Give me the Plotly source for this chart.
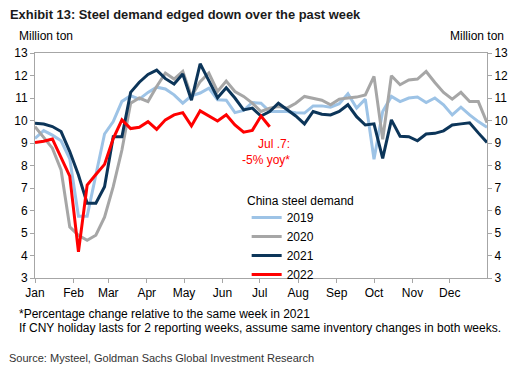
import pandas as pd
import plotly.graph_objects as go

# ---------------- data ----------------
week_start = "2022-01-01"
series_names = ["2019", "2020", "2021", "2022"]
month_labels = ["Jan", "Feb", "Mar", "Apr", "May", "Jun",
                "Jul", "Aug", "Sep", "Oct", "Nov", "Dec"]
y_tick_values = [3, 4, 5, 6, 7, 8, 9, 10, 11, 12, 13]

demand_2019 = [9.2, 9.55, 9.35, 9.1, 8.3, 5.75, 5.75, 7.6, 9.4, 9.95,
               10.85, 11.1, 10.95, 11.25, 11.48, 11.4, 11.14, 10.77, 11.1, 11.22,
               11.44, 10.92, 10.9, 10.35, 10.45, 10.8, 10.77, 10.4, 10.4, 10.4,
               10.35, 10.33, 10.65, 10.65, 10.59, 10.75, 11.19, 10.55, 10.95, 8.28,
               10.4, 11.07, 10.84, 11.0, 11.04, 10.8, 11.0, 10.7, 10.25, 10.59,
               10.25, 9.95, 9.7]
demand_2020 = [9.73, 9.25, 8.77, 7.8, 5.27, 4.9, 4.68, 4.9, 5.7, 7.06,
               8.69, 10.77, 11.0, 10.84, 11.51, 12.11, 11.84, 12.18, 11.07, 11.73,
               12.11, 11.29, 11.75, 11.29, 11.07, 10.77, 10.4, 10.55, 10.62, 10.55,
               10.77, 11.07, 11.0, 10.9, 10.7, 10.95, 11.0, 11.04, 11.14, 11.96,
               9.17, 11.99, 11.59, 11.8, 11.84, 12.18, 11.69, 11.25, 10.95, 11.25,
               10.84, 10.84, 9.9]
demand_2021 = [9.88, 9.84, 9.73, 9.51, 8.62, 7.58, 6.32, 6.32, 7.06, 9.28,
               9.28, 11.25, 11.7, 12.05, 12.24, 11.86, 11.62, 12.07, 10.9, 12.52,
               11.77, 11.01, 11.45, 11.0, 10.47, 10.55, 10.2, 10.4, 10.77, 10.5,
               10.2, 9.85, 10.4, 10.28, 10.25, 10.4, 10.7, 10.17, 9.8, 9.85,
               8.32, 10.03, 9.3, 9.28, 9.1, 9.4, 9.43, 9.54, 9.8, 9.85,
               9.9, 9.45, 9.02]
demand_2022 = [9.02, 9.08, 9.18, 8.39, 7.53, 4.16, 7.13, 7.6, 8.05, 9.2,
               10.03, 9.64, 9.7, 9.95, 9.61, 10.03, 10.25, 10.35, 9.76, 10.43,
               10.2, 9.98, 10.25, 9.8, 9.48, 9.56, 10.2, 9.72]

# ---------------- style ----------------
FONT = "Liberation Sans, Arial, sans-serif"
AXIS_GREY = "#A6A6A6"
colors = {"2019": "#9DC3E6", "2020": "#A6A6A6", "2021": "#0C3559", "2022": "#FF0000"}


def week_dates(n):
    return pd.date_range(week_start, periods=n, freq="7D")


fig = go.Figure()
for name, vals in zip(series_names, [demand_2019, demand_2020, demand_2021, demand_2022]):
    fig.add_trace(go.Scatter(
        x=week_dates(len(vals)), y=vals, mode="lines", name=name,
        line=dict(color=colors[name], width=3),
        yaxis="y2" if name == "2022" else "y",
        hoverinfo="skip",
    ))

month_ticks = pd.date_range(week_start, periods=12, freq="MS")

fig.update_layout(
    width=520, height=374,
    margin=dict(l=35, r=28, t=53, b=96),
    paper_bgcolor="white", plot_bgcolor="white",
    font=dict(family=FONT, size=12, color="black"),
    xaxis=dict(
        type="date", range=["2022-01-01", "2022-12-31"],
        tickvals=month_ticks, ticktext=month_labels,
        showline=True, linecolor=AXIS_GREY, linewidth=1, mirror=True,
        ticks="outside", ticklen=4, tickcolor=AXIS_GREY,
        showgrid=False, zeroline=False,
        tickfont=dict(size=12, color="black"),
    ),
    yaxis=dict(
        range=[3, 13], tickvals=y_tick_values,
        showline=True, linecolor=AXIS_GREY, linewidth=1,
        ticks="outside", ticklen=4, tickcolor=AXIS_GREY,
        showgrid=False, zeroline=False,
        tickfont=dict(size=12, color="black"),
    ),
    yaxis2=dict(
        range=[3, 13], tickvals=y_tick_values, overlaying="y", side="right",
        showline=True, linecolor=AXIS_GREY, linewidth=1,
        ticks="outside", ticklen=4, tickcolor=AXIS_GREY,
        showgrid=False, zeroline=False,
        tickfont=dict(size=12, color="black"),
    ),
    showlegend=True,
    legend=dict(
        x=(249 - 35) / 457, y=(278 - 203) / 225, xanchor="left", yanchor="top",
        bgcolor="rgba(0,0,0,0)", borderwidth=0,
        font=dict(size=12, color="black"),
        tracegroupgap=0,
    ),
)


def px_x(px):
    return (px - 35) / 457


def px_y(py):
    return (278 - py) / 225


annotations = [
    dict(text="<b>Exhibit 13: Steel demand edged down over the past week</b>",
         x=px_x(8), y=px_y(14), xanchor="left", yanchor="middle",
         font=dict(size=12.9, color="#1a1a1a")),
    dict(text="Million ton", x=px_x(17), y=px_y(35.5), xanchor="left", yanchor="middle",
         font=dict(size=12, color="black")),
    dict(text="Million ton", x=px_x(511), y=px_y(35.5), xanchor="right", yanchor="middle",
         font=dict(size=12, color="black")),
    dict(text="China steel demand", x=px_x(247), y=px_y(201), xanchor="left", yanchor="middle",
         font=dict(size=12, color="black")),
    dict(text="Jul .7:<br>-5% yoy*", x=px_x(295), y=px_y(152), xanchor="right", yanchor="middle",
         align="right", font=dict(size=12, color="#FF0000")),
    dict(text="*Percentage change relative to the same week in 2021",
         x=px_x(17), y=px_y(314), xanchor="left", yanchor="middle",
         font=dict(size=12, color="black")),
    dict(text="If CNY holiday lasts for 2 reporting weeks, assume same inventory changes in both weeks.",
         x=px_x(17), y=px_y(328), xanchor="left", yanchor="middle",
         font=dict(size=12, color="black")),
    dict(text="Source: Mysteel, Goldman Sachs Global Investment Research",
         x=px_x(7), y=px_y(357.5), xanchor="left", yanchor="middle",
         font=dict(size=11, color="#333333")),
]
for a in annotations:
    a.update(xref="paper", yref="paper", showarrow=False)
fig.update_layout(annotations=annotations)

fig.write_html("out.html", config={"displayModeBar": False},
               post_script="document.body.style.margin='0';")
